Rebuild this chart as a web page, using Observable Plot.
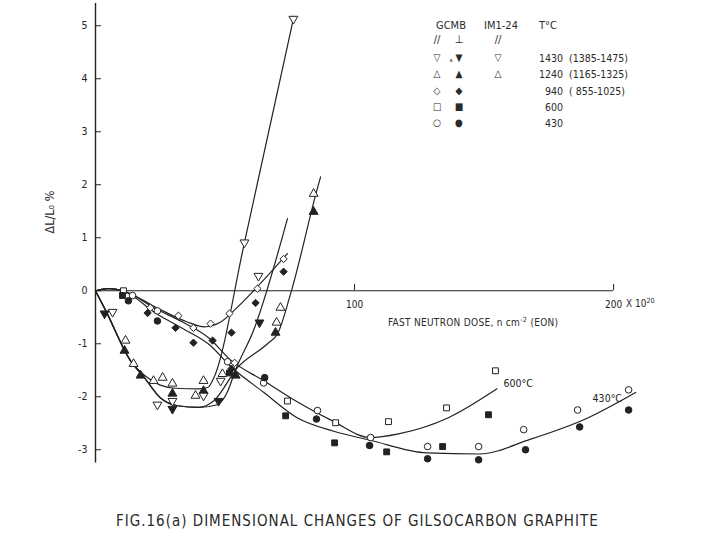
<!DOCTYPE html>
<html><head><meta charset="utf-8">
<script src="https://cdn.jsdelivr.net/npm/d3@7"></script>
<script src="https://cdn.jsdelivr.net/npm/@observablehq/plot@0.6"></script>
<style>
body{margin:0;background:#fff;}
#wrap{position:relative;width:720px;height:540px;overflow:hidden;font-family:"DejaVu Sans Condensed","Liberation Sans Narrow","DejaVu Sans",sans-serif;color:#2a2a2a;}
#wrap svg{position:absolute;left:0;top:0;}
.t{position:absolute;white-space:nowrap;line-height:1;font-size:10px;transform:translate(-50%,-50%);}
.l{transform:translate(0,-50%);}
.r{transform:translate(-100%,-50%);}
sup{font-size:0.72em;vertical-align:0.55em;line-height:0;}
</style></head><body><div id="wrap"></div>
<script>
// ---------- axis ticks ----------
const yTicks = [5, 4, 3, 2, 1, 0, -1, -2, -3];
const xTicks = [100, 200];
const xTickLabels = ["100", "200"];

// ---------- measured points (dose x1e20 n/cm2, dL/L0 %) ----------
// 1430 C, GCMB // (open down-triangles, incl. IM1-24 //)
const p1430parX = [76.4, 57.5, 62.9, 48.3, 23.9, 29.7, 6.6, 41.7];
const p1430parY = [5.13, 0.91, 0.28, -1.70, -2.15, -2.08, -0.40, -1.98];
// 1430 C, GCMB perpendicular (filled down-triangles)
const p1430perX = [63.3, 47.5, 29.7, 3.5];
const p1430perY = [-0.60, -2.08, -2.23, -0.43];
// 1240 C, // (open triangles)
const p1240parX = [84.2, 71.4, 69.9, 41.7, 38.6, 29.7, 25.9, 22.4, 14.7, 11.6, 49.0];
const p1240parY = [1.83, -0.32, -0.60, -1.70, -1.98, -1.75, -1.64, -1.70, -1.38, -0.94, -1.57];
// 1240 C, perpendicular (filled triangles)
const p1240perX = [84.2, 69.5, 11.2, 17.4, 29.7, 41.7, 54.1];
const p1240perY = [1.49, -0.79, -1.13, -1.60, -1.94, -1.89, -1.60];
// 940 C
const p940parX = [21.2, 32.0, 37.8, 44.4, 51.7, 62.5, 72.6, 53.7];
const p940parY = [-0.32, -0.47, -0.70, -0.62, -0.43, 0.04, 0.60, -1.36];
const p940perX = [20.1, 30.9, 37.8, 45.2, 52.5, 61.8, 72.6, 52.5];
const p940perY = [-0.42, -0.70, -0.98, -0.94, -0.79, -0.23, 0.36, -1.47];
// 600 C
const p600parX = [10.8, 74.1, 92.7, 113.1, 135.5, 154.4];
const p600parY = [0.0, -2.08, -2.49, -2.47, -2.21, -1.51];
const p600perX = [10.4, 73.4, 92.3, 112.4, 134.0, 151.7, 51.7];
const p600perY = [-0.09, -2.36, -2.87, -3.04, -2.94, -2.34, -1.55];
// 430 C
const p430parX = [14.3, 23.9, 51.0, 64.9, 85.7, 106.2, 128.2, 147.9, 165.3, 186.1, 205.8];
const p430parY = [-0.09, -0.38, -1.34, -1.74, -2.26, -2.77, -2.94, -2.94, -2.62, -2.25, -1.87];
const p430perX = [12.7, 23.9, 65.3, 85.3, 105.8, 128.2, 147.9, 166.0, 186.9, 205.8];
const p430perY = [-0.19, -0.57, -1.64, -2.42, -2.92, -3.17, -3.19, -3.00, -2.57, -2.25];

// ---------- hand-drawn fit curves ----------
const fitAX = [0, 4, 13.5, 19, 25, 31, 40, 43.5, 45.7, 57.5, 76.4];
const fitAY = [0, -0.38, -1.32, -1.6, -1.78, -1.84, -1.85, -1.82, -1.64, 0.91, 5.13];
const fitBX = [0, 4, 13.5, 19, 25, 31.7, 40, 45.6, 54.8, 66.4, 70.3, 75.3, 85.7, 86.9];
const fitBY = [0, -0.38, -1.32, -1.65, -2.02, -2.17, -2.2, -2.08, -1.45, -1.0, -0.81, -0.06, 1.94, 2.15];
const fitCX = [0, 4, 13.5, 19, 25, 31.7, 40, 47, 51, 54, 61, 74.1];
const fitCY = [0, -0.38, -1.32, -1.65, -2.02, -2.17, -2.2, -2.15, -1.9, -1.5, -0.75, 1.36];
const fit940X = [0, 5, 10.5, 24, 35, 42, 48, 55, 62, 74.1];
const fit940Y = [0, 0.04, 0, -0.33, -0.58, -0.68, -0.6, -0.3, 0.05, 0.70];
const fit600X = [0, 5, 10.5, 24, 34, 44, 52, 65, 78, 92, 106, 117, 136, 155];
const fit600Y = [0, 0.04, 0, -0.36, -0.6, -0.9, -1.3, -1.7, -2.1, -2.47, -2.77, -2.7, -2.4, -1.85];
const fit430X = [0, 5, 10.5, 24, 34, 44, 52, 65, 78, 92, 106, 128, 148, 168, 190, 208.5];
const fit430Y = [0, 0.04, 0, -0.45, -0.72, -1.02, -1.42, -1.92, -2.4, -2.65, -2.82, -3.06, -3.08, -2.8, -2.4, -1.92];

// curve annotations
const curveLabelText = ["600°C", "430°C"];
const curveLabelX = [157.5, 191.9];
const curveLabelY = [-1.75, -2.04];

// ---------- build ----------
const INK = "#222";
const FONT = '"DejaVu Sans Condensed","Liberation Sans Narrow","DejaVu Sans",sans-serif';
const zip = (xs, ys) => xs.map((x, i) => ({x, y: ys[i]}));
const fitLine = (xs, ys) => Plot.line(zip(xs, ys), {x: "x", y: "y", curve: "monotone-x", stroke: INK, strokeWidth: 1.2});
const dots = (xs, ys, symbol, filled, rotate = 0) =>
  Plot.dot(zip(xs, ys), {x: "x", y: "y", symbol, r: 3.3, rotate, stroke: INK, strokeWidth: 1, fill: filled ? INK : "white"});
const fmt = d => d < 0 ? "-" + Math.abs(d) : String(d);

const chart = Plot.plot({
  width: 720, height: 500,
  marginLeft: 95, marginRight: 81, marginTop: 3, marginBottom: 37.5,
  x: {domain: [0, 210], axis: null},
  y: {domain: [-3.25, 5.42], axis: null},
  style: {fontFamily: FONT, color: INK, background: "white", fontSize: "10px"},
  marks: [
    Plot.ruleX([0], {stroke: INK, strokeWidth: 1.4}),
    Plot.ruleY([0], {x1: 0, x2: 200, stroke: INK, strokeWidth: 1.2}),
    Plot.ruleY(yTicks, {y: d => d, x1: 0, x2: 2.3, stroke: INK, strokeWidth: 1}),
    Plot.ruleX(xTicks, {x: d => d, y1: 0, y2: 0.12, stroke: INK, strokeWidth: 1}),
    Plot.text(yTicks, {x: 0, y: d => d, text: fmt, textAnchor: "end", dx: -8, fontSize: 10.5, fill: INK}),
    Plot.text(xTicks, {x: d => d, y: 0, text: (d, i) => xTickLabels[i], dy: 14, fontSize: 10, fill: INK}),
    fitLine(fitAX, fitAY),
    fitLine(fitBX, fitBY),
    fitLine(fitCX, fitCY),
    fitLine(fit940X, fit940Y),
    fitLine(fit600X, fit600Y),
    fitLine(fit430X, fit430Y),
    dots(p430parX, p430parY, "circle", false),
    dots(p430perX, p430perY, "circle", true),
    dots(p600parX, p600parY, "square", false),
    dots(p600perX, p600perY, "square", true),
    dots(p940parX, p940parY, "diamond2", false),
    dots(p940perX, p940perY, "diamond2", true),
    dots(p1240parX, p1240parY, "triangle", false),
    dots(p1240perX, p1240perY, "triangle", true),
    dots(p1430parX, p1430parY, "triangle", false, 180),
    dots(p1430perX, p1430perY, "triangle", true, 180),
    Plot.text(curveLabelText, {x: (d, i) => curveLabelX[i], y: (d, i) => curveLabelY[i], text: d => d, textAnchor: "start", fontSize: 10.5, fill: INK})
  ]
});
const wrap = document.getElementById("wrap");
wrap.appendChild(chart);

// ---------- overlay texts (legend, axis titles, caption) ----------
const legendHead = [["GCMB", 451, 25], ["IM1-24", 501, 25], ["T°C", 548, 25], ["//", 437, 39], ["⊥", 459, 39], ["//", 498, 39]];
const legendRowY = [58, 74, 91, 107, 123];
const legendOpen = ["▽", "△", "◇", "□", "○"];
const legendFilled = ["▼", "▲", "◆", "■", "●"];
const legendIM = ["▽", "△", "", "", ""];
const legendTemp = ["1430", "1240", "940", "600", "430"];
const legendRange = ["(1385-1475)", "(1165-1325)", "( 855-1025)", "", ""];

function add(html, x, y, cls, style) {
  const d = document.createElement("div");
  d.className = "t " + (cls || "");
  d.innerHTML = html;
  d.style.left = x + "px"; d.style.top = y + "px";
  if (style) Object.assign(d.style, style);
  wrap.appendChild(d);
  return d;
}
legendHead.forEach(([t, x, y]) => add(t, x, y, "", {fontSize: "11px"}));
legendRowY.forEach((y, i) => {
  add(legendOpen[i], 437, y, "", {fontSize: "10px"});
  add(legendFilled[i], 459, y, "", {fontSize: "10px"});
  if (legendIM[i]) add(legendIM[i], 498, y, "", {fontSize: "10px"});
  add(legendTemp[i], 563, y, "r", {fontSize: "10.5px"});
  if (legendRange[i]) add(legendRange[i], 569, y, "l", {fontSize: "10.5px"});
});
add("ᴀ", 451, 60, "", {fontSize: "6px"});

add("X 10<sup>20</sup>", 626, 304, "l", {fontSize: "10px"});
add("FAST NEUTRON DOSE, n cm<sup>-2</sup> (EON)", 388, 323, "l", {fontSize: "10px", letterSpacing: "0.3px"});
add("ΔL/L₀ %", 50, 212, "", {fontSize: "12.5px", transform: "translate(-50%,-50%) rotate(-90deg)"});
add("FIG.16(a)  DIMENSIONAL CHANGES OF GILSOCARBON GRAPHITE", 116, 521, "l", {fontSize: "15px", letterSpacing: "1px"});
</script>
</body></html>
